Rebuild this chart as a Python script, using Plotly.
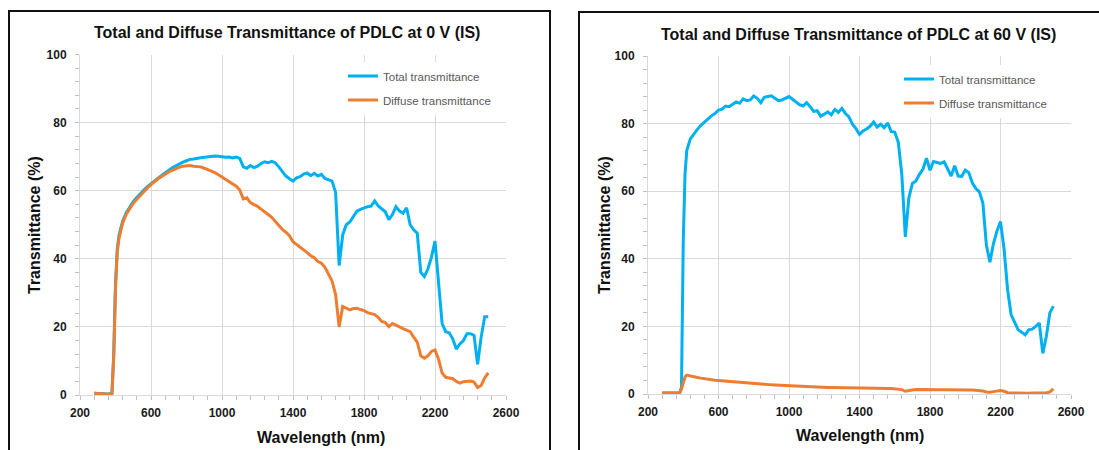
import plotly.graph_objects as go

# Wavelength grid (nm), shared by all four measured spectra (denser at the absorption edge)
wavelength = list(range(280, 381, 20)) + [390, 400, 410] + list(range(420, 2501, 20))

# 0 V panel
total_0v = [
    0.5, 0.4, 0.5, 0.4, 0.3, 0.5, 12, 33, 43, 47, 51, 53.5,
    55.3, 56.8, 58, 59.2, 60.2, 61.2, 62.1, 62.9, 63.7, 64.5,
    65.3, 66, 66.7, 67.3, 67.9, 68.4, 68.8, 69.2, 69.3, 69.6,
    69.7, 69.8, 70, 70.1, 70.2, 70.1, 69.9, 69.8, 69.9, 69.6,
    69.9, 69.5, 67, 66.6, 67.4, 66.8, 67.2, 68, 68.5, 68.2,
    68.6, 68.2, 67, 65.8, 64.3, 63.5, 62.8, 63.8, 64.1, 64.9,
    65.2, 64.4, 65.1, 64.3, 64.8, 63.6, 63.1, 62.8, 59.5, 38,
    47, 50, 50.8, 52.5, 54, 54.5, 55, 55.3, 55.5, 57,
    55.5, 54.5, 53.8, 51.5, 53, 55.3, 54, 53.4, 55, 50,
    48.5, 47.5, 36, 34.8, 37, 40.5, 45.2, 33, 21, 18.6,
    18.3, 16.5, 13.5, 15, 16, 18, 18, 17.5, 9, 17,
    23, 23,
]
diffuse_0v = [
    0.5, 0.4, 0.5, 0.3, 0.2, 0.4, 11, 31, 42, 46, 50.5, 53,
    54.8, 56.3, 57.5, 58.7, 59.8, 60.8, 61.8, 62.7, 63.5, 64.2,
    64.9, 65.5, 66, 66.5, 66.9, 67.2, 67.3, 67.4, 67.2, 67.1,
    67, 66.6, 66.2, 65.8, 65.3, 64.7, 64, 63.3, 62.7, 62.1,
    61.3, 60.2, 57.6, 57.9, 56.5, 55.9, 55.4, 54.6, 53.9, 53,
    52.2, 51, 49.6, 48.6, 47.8, 46.8, 45, 44.2, 43.5, 42.8,
    41.8, 40.9, 40.3, 39.2, 38.7, 37.5, 35.5, 33.5, 29.5, 20,
    26, 25.5, 25, 25.4, 25.5, 25.1, 24.8, 24.2, 24, 23.6,
    22.8, 21.6, 21.3, 20.1, 21, 20.6, 20, 19.5, 19, 18.6,
    17, 15.5, 11.5, 10.8, 11.5, 12.8, 13.2, 10.5, 6.5, 5.2,
    5, 4.8, 4, 3.5, 3.9, 4, 4.1, 3.8, 2.2, 2.8,
    5, 6.5,
]

# 60 V panel
total_60v = [
    0.3, 0.3, 0.3, 0.3, 0.3, 0.4, 2, 45, 65, 72, 75.5, 77,
    78.3, 79.5, 80.5, 81.3, 82.3, 83, 84, 84.3, 85.2, 85,
    85.8, 86.4, 86, 87.3, 86.8, 87, 88.2, 87.5, 86.2, 87.8,
    88, 88.2, 87.5, 86.8, 87, 87.6, 88, 87.2, 86.3, 85.6,
    85.2, 86.2, 85, 83.6, 83.8, 82.2, 82.8, 83.5, 82.6, 84.2,
    83.3, 84.5, 83, 82, 79.8, 78.5, 76.8, 77.8, 78.4, 79.2,
    80.5, 79, 79.8, 78.8, 80.2, 77.6, 77.5, 74.5, 65, 46.5,
    58, 62.3, 63, 65, 66.5, 69.8, 66.2, 68.8, 68.5, 68.2,
    68.7, 66.5, 64.5, 67.5, 64.5, 64.4, 66.2, 65.5, 62.5, 60.8,
    59.8, 56.5, 44, 39, 44.5, 48.2, 51, 43, 31, 23.5,
    21, 19, 18.3, 17.5, 19, 19.2, 20, 21, 12, 17,
    24, 26,
]
diffuse_60v = [
    0.3, 0.3, 0.3, 0.3, 0.3, 0.3, 1.5, 3.5, 5, 5.6, 5.3, 5.1,
    4.9, 4.7, 4.5, 4.3, 4.2, 4.1, 4.0, 3.9, 3.8, 3.7,
    3.6, 3.5, 3.4, 3.3, 3.2, 3.1, 3.0, 2.95, 2.9, 2.85,
    2.8, 2.7, 2.65, 2.6, 2.5, 2.45, 2.4, 2.35, 2.3, 2.25,
    2.2, 2.1, 2.0, 2.0, 2.0, 2.0, 2.0, 1.95, 1.95, 1.9,
    1.9, 1.9, 1.85, 1.8, 1.8, 1.8, 1.75, 1.75, 1.7, 1.7,
    1.7, 1.65, 1.65, 1.6, 1.6, 1.6, 1.55, 1.5, 1.3, 0.8,
    1.1, 1.2, 1.3, 1.3, 1.35, 1.4, 1.3, 1.35, 1.3, 1.3,
    1.3, 1.25, 1.2, 1.25, 1.2, 1.2, 1.2, 1.2, 1.15, 1.1,
    1.0, 0.9, 0.6, 0.5, 0.7, 0.9, 1.0, 0.8, 0.4, 0.3,
    0.25, 0.2, 0.2, 0.2, 0.25, 0.3, 0.3, 0.4, 0.2, 0.3,
    0.6, 1.5,
]

titles = ["Total and Diffuse Transmittance of PDLC at 0 V (IS)",
          "Total and Diffuse Transmittance of PDLC at 60 V (IS)"]
series_names = ["Total transmittance", "Diffuse transmittance"]
x_title = "Wavelength (nm)"
y_title = "Transmittance (%)"

BLUE = "#00B0F0"
ORANGE = "#ED7D31"
W, H = 1099, 450
FONT = "Liberation Sans, Arial, sans-serif"

fig = go.Figure()

panels = [
    dict(total=total_0v, diffuse=diffuse_0v, xa="x", ya="y", legend="legend"),
    dict(total=total_60v, diffuse=diffuse_60v, xa="x2", ya="y2", legend="legend2"),
]
for p in panels:
    fig.add_trace(go.Scatter(x=wavelength, y=p["total"], mode="lines", name=series_names[0],
                             line=dict(color=BLUE, width=3), xaxis=p["xa"], yaxis=p["ya"],
                             legend=p["legend"], legendgroup=p["legend"] + "t"))
    fig.add_trace(go.Scatter(x=wavelength, y=p["diffuse"], mode="lines", name=series_names[1],
                             line=dict(color=ORANGE, width=3), xaxis=p["xa"], yaxis=p["ya"],
                             legend=p["legend"], legendgroup=p["legend"] + "d"))


def px_x(v):
    return v / W


def px_y(v):
    return 1 - v / H


grid = "#d9d9d9"
tickfont = dict(family=FONT, size=12, color="#1a1a1a", weight="bold")


def xaxis_cfg(x0, x1, anchor):
    return dict(domain=[px_x(x0), px_x(x1)], range=[200, 2600], dtick=400, tick0=200,
                showgrid=True, gridcolor=grid, gridwidth=1, showline=True, linecolor=grid,
                ticks="outside", ticklen=4, tickcolor="#bfbfbf", tickfont=tickfont,
                ticklabelstandoff=3, zeroline=False, anchor=anchor, automargin=False,
                minor=dict(dtick=80, tick0=200, ticks="outside", ticklen=4,
                           tickcolor="#bfbfbf", showgrid=False))


def yaxis_cfg(y_bottom, y_top, anchor):
    return dict(domain=[px_y(y_bottom), px_y(y_top)], range=[0, 100], dtick=20,
                showgrid=True, gridcolor=grid, gridwidth=1, showline=True, linecolor=grid,
                ticks="outside", ticklen=4, tickcolor="#bfbfbf", tickfont=tickfont,
                ticklabelstandoff=6, zeroline=False, anchor=anchor, automargin=False,
                minor=dict(dtick=4, ticks="outside", ticklen=4,
                           tickcolor="#bfbfbf", showgrid=False))


legend_common = dict(bgcolor="white", borderwidth=0, traceorder="grouped", tracegroupgap=5,
                     font=dict(family=FONT, size=11.5, color="#595959"),
                     xanchor="left", yanchor="top", itemwidth=30)

fig.update_layout(
    width=W, height=H, autosize=False, margin=dict(l=0, r=0, t=0, b=0, pad=0),
    paper_bgcolor="white", plot_bgcolor="white",
    xaxis=xaxis_cfg(80, 506, "y"),
    yaxis=yaxis_cfg(395, 54.5, "x"),
    xaxis2=xaxis_cfg(648, 1071, "y2"),
    yaxis2=yaxis_cfg(394, 56, "x2"),
    legend=dict(x=px_x(343), y=px_y(61.5), **legend_common),
    legend2=dict(x=px_x(899), y=px_y(64.5), **legend_common),
    showlegend=True,
)

bold16 = dict(family=FONT, size=16, color="#111111", weight="bold")
annots = [
    (287, 32, titles[0], 0), (858, 34, titles[1], 0),
    (321, 437, x_title, 0), (860, 435, x_title, 0),
    (34, 225, y_title, -90), (604, 225, y_title, -90),
]
for (ax, ay, txt, ang) in annots:
    fig.add_annotation(x=px_x(ax), y=px_y(ay), xref="paper", yref="paper", text=txt,
                       showarrow=False, textangle=ang, font=bold16,
                       xanchor="center", yanchor="middle")

# Panel frames
fig.add_shape(type="rect", xref="paper", yref="paper", x0=px_x(9), x1=px_x(550),
              y0=-0.1, y1=px_y(11), line=dict(color="#111111", width=2))
fig.add_shape(type="rect", xref="paper", yref="paper", x0=px_x(579), x1=1.1,
              y0=-0.1, y1=px_y(12), line=dict(color="#111111", width=2))

post = (
    "document.documentElement.style.margin='0';"
    "document.body.style.margin='0';document.body.style.padding='0';"
    "var gd=document.getElementById('{plot_id}');"
    "Plotly.relayout(gd,{width:%d,height:%d});" % (W, H)
)
fig.write_html("out.html", config={"responsive": False}, post_script=post)
